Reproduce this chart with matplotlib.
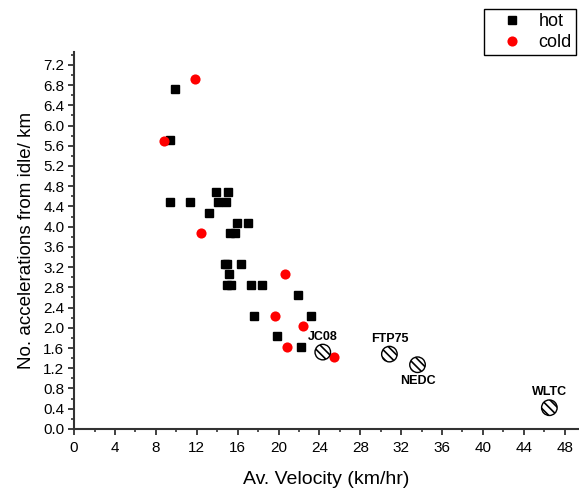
import matplotlib
matplotlib.use("Agg")
import matplotlib.pyplot as plt
from matplotlib.ticker import MultipleLocator, FormatStrFormatter

plt.rcParams['font.family'] = ['Liberation Sans', 'DejaVu Sans']
plt.rcParams['hatch.linewidth'] = 1.2

# Trips with a hot engine start
hot_speed = [9.37, 9.9, 9.37, 11.33, 13.85, 15.02, 14.1, 14.83, 13.19, 15.9,
             16.98, 15.3, 15.74, 14.8, 15.0, 16.33, 15.15, 14.92, 15.38, 17.3,
             18.41, 21.88, 17.63, 23.15, 19.82, 22.17]
hot_acc = [5.72, 6.72, 4.48, 4.48, 4.69, 4.69, 4.48, 4.48, 4.28, 4.07,
           4.07, 3.87, 3.87, 3.26, 3.26, 3.26, 3.06, 2.85, 2.85, 2.85,
           2.85, 2.65, 2.24, 2.24, 1.84, 1.63]

# Trips with a cold engine start
cold_speed = [11.79, 8.82, 12.44, 20.67, 19.62, 22.37, 20.86, 25.44]
cold_acc = [6.92, 5.70, 3.87, 3.06, 2.24, 2.04, 1.63, 1.43]

# Regulatory drive cycles
cycle_names = ["JC08", "FTP75", "NEDC", "WLTC"]
cycle_speed = [24.33, 30.85, 33.6, 46.5]
cycle_acc = [1.52, 1.48, 1.27, 0.42]
cycle_label_offset = [(0, 11), (0, 11), (0, -12), (0, 11.5)]

fig = plt.figure(figsize=(5.79, 4.88), dpi=100)
ax = fig.add_axes([0.128, 0.121, 0.872, 0.772])

ax.plot(hot_speed, hot_acc, linestyle='none', marker='s', markersize=6.3,
        color='black', label='hot', zorder=3)
ax.plot(cold_speed, cold_acc, linestyle='none', marker='o', markersize=7.3,
        color='red', markeredgewidth=0, label='cold', zorder=4)
ax.scatter(cycle_speed, cycle_acc, s=125, facecolor='white', edgecolor='black',
           linewidths=1.0, hatch='\\\\\\\\', zorder=5)
for name, x, y, off in zip(cycle_names, cycle_speed, cycle_acc, cycle_label_offset):
    ax.annotate(name, (x, y), xytext=off, textcoords='offset points',
                ha='center', va='center', fontsize=9, fontweight='bold')

ax.set_xlim(0, 49.4)
ax.set_ylim(0, 7.45)
ax.xaxis.set_major_locator(MultipleLocator(4))
ax.xaxis.set_minor_locator(MultipleLocator(2))
ax.yaxis.set_major_locator(MultipleLocator(0.4))
ax.yaxis.set_minor_locator(MultipleLocator(0.2))
ax.yaxis.set_major_formatter(FormatStrFormatter('%.1f'))

for side in ('top', 'right'):
    ax.spines[side].set_visible(False)
for side in ('left', 'bottom'):
    ax.spines[side].set_linewidth(1.5)
    ax.spines[side].set_color('#333333')
ax.tick_params(which='major', direction='out', length=4.0, width=1.3,
               labelsize=11, color='#333333')
ax.tick_params(which='minor', direction='out', length=2.3, width=1.2,
               color='#333333')
ax.tick_params(axis='x', which='major', pad=5)
ax.tick_params(axis='y', which='major', pad=3)

ax.set_xlabel('Av. Velocity (km/hr)', fontsize=14, labelpad=11)
ax.set_ylabel('No. accelerations from idle/ km', fontsize=13.5, labelpad=6)

fig.legend(loc='upper right', bbox_to_anchor=(0.995, 0.982), borderaxespad=0,
           fontsize=13, frameon=True, fancybox=False, edgecolor='black',
           framealpha=1, handletextpad=0.15, borderpad=0.25,
           labelspacing=0.2, handlelength=2.6)

fig.savefig('out.png', dpi=100)
